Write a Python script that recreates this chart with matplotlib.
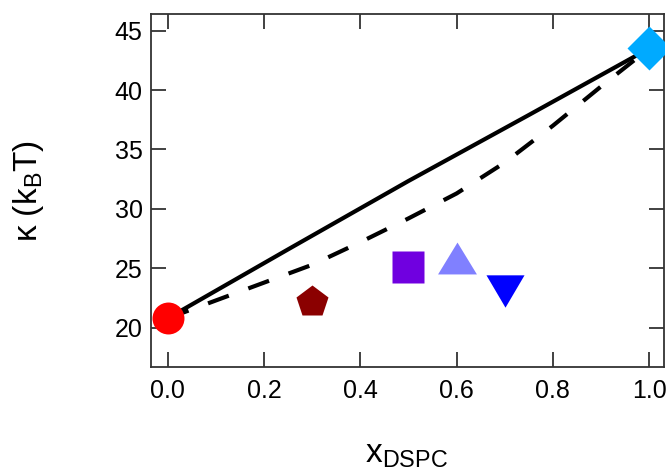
import matplotlib
matplotlib.use("Agg")
import matplotlib.pyplot as plt

plt.rcParams['font.family'] = ['Liberation Sans', 'DejaVu Sans']
plt.rcParams['mathtext.fontset'] = 'custom'
plt.rcParams['mathtext.rm'] = 'Liberation Sans'
plt.rcParams['mathtext.it'] = 'Liberation Sans:italic'

# data
solid_x = [0.0, 0.25, 0.5, 0.75, 1.0]
solid_y = [20.8, 26.6, 32.35, 37.9, 43.5]
dash_x = [0.0, 0.1, 0.2, 0.3, 0.4, 0.5, 0.6, 0.7, 0.8, 0.9, 1.0]
dash_y = [20.8, 22.3, 23.8, 25.3, 27.2, 29.2, 31.3, 33.9, 37.0, 40.3, 43.5]

pt_x = [0.0, 0.30, 0.50, 0.60, 0.70, 1.0]
pt_y = [20.8, 22.15, 25.1, 25.9, 23.1, 43.55]
pt_colors = ['#FF0000', '#8B0000', '#7000E0', '#8080FF', '#0000FF', '#00AAFF']

xticks = [0.0, 0.2, 0.4, 0.6, 0.8, 1.0]
yticks = [20, 25, 30, 35, 40, 45]

tri_up = [(-1, -0.82), (1, -0.82), (0, 0.82)]
tri_dn = [(-1, 0.85), (1, 0.85), (0, -0.85)]
pt_markers = ['o', 'p', 's', tri_up, tri_dn, 'D']
pt_sizes = [23, 23.9, 23, 28, 27.4, 21.9]

fig = plt.figure(figsize=(6.71, 4.75), dpi=100)
ax = fig.add_axes([0.225, 0.2274, 0.9896 - 0.225, 0.9705 - 0.2274])

ax.plot(solid_x, solid_y, color='black', lw=3, solid_capstyle='butt', zorder=2)
ax.plot(dash_x, dash_y, color='black', lw=3, dashes=(5.3, 5.0), dash_capstyle='butt', zorder=2)

for x, y, c, m, s in zip(pt_x, pt_y, pt_colors, pt_markers, pt_sizes):
    ax.plot([x], [y], marker=m, ms=s, color=c, mec='none', ls='none', zorder=3)

ax.set_xlim(-0.035, 1.031)
ax.set_ylim(16.7, 46.4)
ax.set_xticks(xticks)
ax.set_xticklabels([f"{v:.1f}" for v in xticks])
ax.set_yticks(yticks)

for sp in ax.spines.values():
    sp.set_color('#333333')
    sp.set_linewidth(1.3)

ax.tick_params(axis='both', which='major', direction='in', length=11, width=1.3,
               color='#333333', top=True, right=True, labelsize=18, labelcolor='black')
ax.tick_params(axis='x', pad=9)
ax.tick_params(axis='y', pad=6)

fig.text(29 / 671, 1 - 191 / 475, r'κ (k$_\mathregular{B}$T)', rotation=90,
         ha='center', va='center', fontsize=24)
fig.text(406 / 671, 1 - 463 / 475, r'x$_\mathregular{DSPC}$', ha='center', va='baseline', fontsize=24)

fig.savefig('out.png', dpi=100)
